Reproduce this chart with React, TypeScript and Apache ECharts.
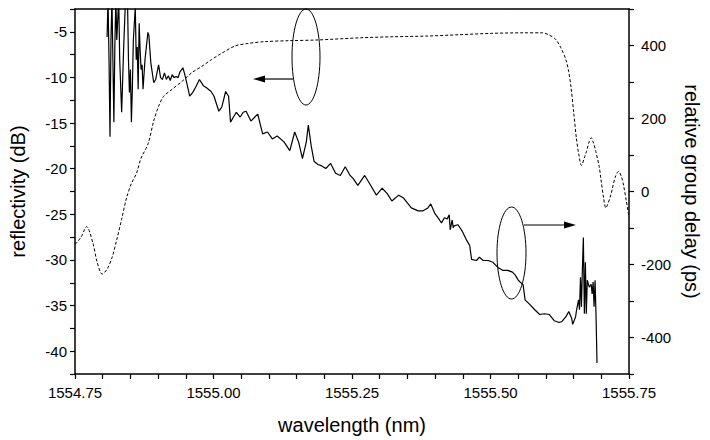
import React, { useEffect, useRef } from "react";
import * as echarts from "echarts";

// reflectivity (dB) vs wavelength (nm) — dashed curve, left axis
const reflWavelength = [
  1554.75, 1554.7605, 1554.771, 1554.782, 1554.79, 1554.799, 1554.808, 1554.817, 1554.825, 1554.834,
  1554.843, 1554.852, 1554.861, 1554.869, 1554.882, 1554.892, 1554.901, 1554.91, 1554.925, 1554.943,
  1554.961, 1554.978, 1554.996, 1555.013, 1555.039, 1555.062, 1555.092, 1555.138, 1555.185, 1555.268,
  1555.325, 1555.383, 1555.443, 1555.501, 1555.559, 1555.594, 1555.606, 1555.617, 1555.627, 1555.636,
  1555.641, 1555.645, 1555.65, 1555.655, 1555.659, 1555.664, 1555.669, 1555.673, 1555.678, 1555.682,
  1555.685, 1555.69, 1555.696, 1555.699, 1555.704, 1555.708, 1555.711, 1555.717, 1555.72, 1555.725,
  1555.731, 1555.736, 1555.74, 1555.745, 1555.75,
];
const reflectivity = [
  -28.3, -27.54, -26.35, -28.08, -30.25, -31.55, -31.01, -29.71, -27.87, -25.59,
  -23.21, -21.59, -20.51, -18.88, -17.26, -14.77, -13.15, -12.07, -11.31, -10.44,
  -9.47, -8.82, -8.06, -7.41, -6.55, -6.28, -6.08, -5.97, -5.9, -5.65,
  -5.54, -5.47, -5.32, -5.17, -5.11, -5.11, -5.36, -5.79, -6.76, -8.06,
  -9.36, -10.98, -13.8, -16.72, -18.34, -19.64, -18.88, -18.13, -17.05, -16.61,
  -17.05, -18.13, -19.75, -21.05, -23.21, -24.3, -23.97, -22.89, -22.13, -20.94,
  -20.29, -20.83, -21.81, -23.54, -25.38,
];

// relative group delay (ps) vs wavelength (nm) — solid curve, right axis
const delayWavelength = [
  1554.8079, 1554.8096, 1554.8114, 1554.8132, 1554.8149, 1554.8167, 1554.8184, 1554.8202, 1554.8219, 1554.8237,
  1554.8254, 1554.8289, 1554.8307, 1554.8342, 1554.8377, 1554.8412, 1554.8447, 1554.8465, 1554.8482, 1554.85,
  1554.8518, 1554.8535, 1554.8553, 1554.8588, 1554.8605, 1554.8623, 1554.864, 1554.8658, 1554.8675, 1554.8693,
  1554.8711, 1554.8728, 1554.8763, 1554.8816, 1554.8833, 1554.8868, 1554.8921, 1554.8956, 1554.9009, 1554.9044,
  1554.9079, 1554.9114, 1554.9149, 1554.9184, 1554.9219, 1554.9254, 1554.9289, 1554.9325, 1554.936, 1554.9395,
  1554.9447, 1554.9482, 1554.9535, 1554.957, 1554.9623, 1554.9675, 1554.9746, 1554.9816, 1554.9868, 1554.9956,
  1555.0009, 1555.0096, 1555.0149, 1555.0219, 1555.0272, 1555.0307, 1555.036, 1555.0412, 1555.0482, 1555.0535,
  1555.0588, 1555.0675, 1555.0746, 1555.0798, 1555.0886, 1555.0974, 1555.1061, 1555.1149, 1555.1272, 1555.1377,
  1555.1465, 1555.1535, 1555.1605, 1555.1675, 1555.1711, 1555.1763, 1555.1816, 1555.1886, 1555.1939, 1555.2026,
  1555.2114, 1555.2202, 1555.2289, 1555.2377, 1555.2465, 1555.2518, 1555.2605, 1555.2728, 1555.2816, 1555.2939,
  1555.3044, 1555.3132, 1555.3219, 1555.3342, 1555.343, 1555.357, 1555.3693, 1555.3781, 1555.3868, 1555.3921,
  1555.3991, 1555.4079, 1555.4114, 1555.4167, 1555.4219, 1555.4254, 1555.4272, 1555.4307, 1555.4325, 1555.4342,
  1555.4412, 1555.4482, 1555.457, 1555.4623, 1555.4658, 1555.4746, 1555.4798, 1555.4868, 1555.4956, 1555.5044,
  1555.5132, 1555.5219, 1555.5307, 1555.5395, 1555.5447, 1555.55, 1555.5588, 1555.5623, 1555.5711, 1555.5798,
  1555.5886, 1555.5974, 1555.6061, 1555.6149, 1555.6237, 1555.6289, 1555.636, 1555.6412, 1555.6465, 1555.6482,
  1555.6535, 1555.6553, 1555.6588, 1555.6605, 1555.6623, 1555.664, 1555.6658, 1555.6675, 1555.6693, 1555.6711,
  1555.6728, 1555.6746, 1555.6781, 1555.6816, 1555.6833, 1555.6851, 1555.6868, 1555.6886, 1555.6904, 1555.6921,
];
const groupDelay = [
  423, 530, 361, 150, 415, 530, 361, 190, 396, 530,
  415, 530, 361, 217, 388, 530, 530, 361, 271, 334,
  190, 280, 415, 505, 361, 396, 280, 461, 388, 334,
  347, 280, 361, 436, 428, 353, 298, 307, 347, 312,
  307, 325, 307, 317, 304, 320, 312, 315, 312, 328,
  339, 320, 285, 261, 271, 285, 307, 290, 285, 274,
  261, 220, 231, 274, 261, 190, 204, 217, 204, 217,
  220, 193, 204, 212, 158, 163, 144, 152, 136, 112,
  163, 136, 90, 136, 182, 125, 82, 74, 71, 63,
  77, 50, 44, 68, 44, 36, 17, 44, 22, -10,
  9, -5, -26, -10, -18, -45, -53, -53, -45, -34,
  -59, -78, -86, -72, -75, -64, -105, -78, -99, -94,
  -91, -107, -134, -148, -186, -189, -180, -189, -189, -194,
  -208, -216, -216, -221, -229, -243, -256, -297, -310, -324,
  -337, -335, -337, -354, -359, -356, -343, -329, -348, -364,
  -343, -324, -297, -324, -235, -316, -208, -126, -335, -194,
  -335, -243, -262, -254, -281, -248, -316, -243, -343, -470,
];

const xTickLabels = ["1554.75", "1555.00", "1555.25", "1555.50", "1555.75"];
const leftTickLabels = [-40, -35, -30, -25, -20, -15, -10, -5];
const rightTickLabels = [-400, -200, 0, 200, 400];

const FONT = "'Liberation Sans', Arial, Helvetica, sans-serif";

export default function App() {
  const ref = useRef<HTMLDivElement>(null);

  useEffect(() => {
    if (!ref.current) return;
    const chart = echarts.init(ref.current, undefined, { renderer: "svg" });

    const reflData = reflWavelength.map((w, i) => [w, reflectivity[i]]);
    const delayData = delayWavelength.map((w, i) => [w, groupDelay[i]]);

    const axisLine = { show: true, onZero: false, lineStyle: { color: "#000", width: 1.5 } };
    const tick = { show: true, inside: false, length: 5, lineStyle: { color: "#000", width: 1.2 } };

    const option: any = {
      animation: false,
      backgroundColor: "#fff",
      textStyle: { fontFamily: FONT },
      grid: { left: 72, top: 9, width: 570, height: 369, containLabel: false },
      xAxis: [
        {
          type: "value",
          min: 1554.75,
          max: 1555.75,
          interval: 0.05,
          position: "bottom",
          name: "wavelength (nm)",
          nameLocation: "middle",
          nameGap: 41,
          nameTextStyle: { fontSize: 20, color: "#000", fontFamily: FONT },
          axisLine,
          axisTick: tick,
          splitLine: { show: false },
          axisLabel: {
            color: "#000",
            fontSize: 15,
            fontFamily: FONT,
            margin: 11,
            formatter: (v: number) => {
              const s = v.toFixed(2);
              return xTickLabels.includes(s) && Math.abs(v * 4 - Math.round(v * 4)) < 1e-6 ? s : "";
            },
          },
        },
        {
          type: "value",
          min: 1554.75,
          max: 1555.75,
          position: "top",
          axisLine,
          axisTick: { show: false },
          axisLabel: { show: false },
          splitLine: { show: false },
        },
      ],
      yAxis: [
        {
          type: "value",
          min: -42.5,
          max: -2.5,
          interval: 2.5,
          position: "left",
          name: "reflectivity (dB)",
          nameLocation: "middle",
          nameGap: 47,
          nameTextStyle: { fontSize: 20, color: "#000", fontFamily: FONT },
          axisLine,
          axisTick: tick,
          splitLine: { show: false },
          axisLabel: {
            color: "#000",
            fontSize: 15,
            fontFamily: FONT,
            margin: 8,
            formatter: (v: number) => {
              const r = Math.round(v);
              return Math.abs(v - r) < 1e-6 && leftTickLabels.includes(r) ? String(r) : "";
            },
          },
        },
        {
          type: "value",
          min: -500,
          max: 500,
          interval: 100,
          position: "right",
          name: "relative group delay (ps)",
          nameLocation: "middle",
          nameRotate: -90,
          nameGap: 50,
          nameTextStyle: { fontSize: 20, color: "#000", fontFamily: FONT },
          axisLine,
          axisTick: tick,
          splitLine: { show: false },
          axisLabel: {
            color: "#000",
            fontSize: 15,
            fontFamily: FONT,
            margin: 12,
            formatter: (v: number) => {
              const r = Math.round(v);
              return rightTickLabels.includes(r) ? String(r) : "";
            },
          },
        },
      ],
      series: [
        {
          name: "reflectivity",
          type: "line",
          xAxisIndex: 0,
          yAxisIndex: 0,
          data: reflData,
          showSymbol: false,
          smooth: 0.3,
          clip: true,
          lineStyle: { color: "#000", width: 1, type: [3, 2] },
        },
        {
          name: "group delay",
          type: "line",
          xAxisIndex: 0,
          yAxisIndex: 1,
          data: delayData,
          showSymbol: false,
          clip: true,
          lineStyle: { color: "#000", width: 1.2 },
        },
      ],
      graphic: [
        {
          type: "ellipse",
          shape: { cx: 306, cy: 57, rx: 14, ry: 48 },
          style: { fill: "none", stroke: "#000", lineWidth: 1 },
          z: 10,
        },
        {
          type: "line",
          shape: { x1: 293, y1: 79, x2: 262, y2: 79 },
          style: { stroke: "#000", lineWidth: 1.2 },
          z: 10,
        },
        {
          type: "polygon",
          shape: { points: [[253, 79], [265, 75.5], [265, 82.5]] },
          style: { fill: "#000", stroke: "none" },
          z: 10,
        },
        {
          type: "ellipse",
          shape: { cx: 511.5, cy: 253, rx: 14.5, ry: 46 },
          style: { fill: "none", stroke: "#000", lineWidth: 1 },
          z: 10,
        },
        {
          type: "line",
          shape: { x1: 524, y1: 225, x2: 566, y2: 225 },
          style: { stroke: "#000", lineWidth: 1.2 },
          z: 10,
        },
        {
          type: "polygon",
          shape: { points: [[576, 225], [564, 221.5], [564, 228.5]] },
          style: { fill: "#000", stroke: "none" },
          z: 10,
        },
      ],
    };

    chart.setOption(option);
    return () => chart.dispose();
  }, []);

  return (
    <div
      ref={ref}
      style={{ position: "absolute", left: 0, top: 0, width: 710, height: 440, background: "#fff" }}
    />
  );
}
